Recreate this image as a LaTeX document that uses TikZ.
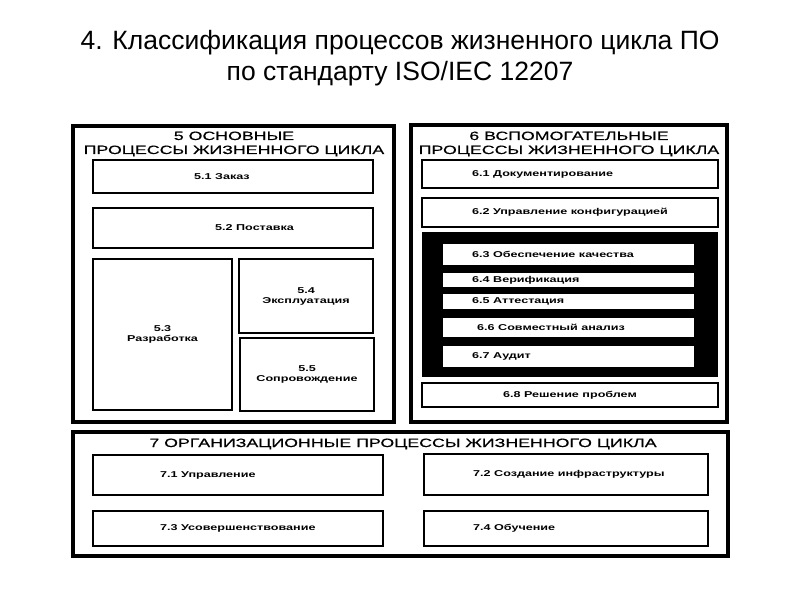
\documentclass[tikz,border=0pt]{standalone}
\usepackage{fontspec}
\setmainfont{Liberation Sans}
\newfontfamily\diagfont[FakeStretch=1.48]{Liberation Sans}
\newfontfamily\headfont[FakeStretch=1.48, FakeBold=0.5]{Liberation Sans}
\usetikzlibrary{positioning}

\begin{document}
\begin{tikzpicture}[
  x=1pt, y=-1pt,
  group/.style={draw, line width=4pt, anchor=north west, inner sep=0pt, outer sep=0pt},
  proc/.style={draw, line width=1.8pt, fill=white, anchor=north west, inner sep=0pt, outer sep=0pt,
    align=center, font=\diagfont\bfseries\fontsize{8.5}{10}\selectfont},
  slot/.style={fill=white, anchor=north west, inner sep=0pt, outer sep=0pt},
  shade/.style={fill=black, anchor=north west, inner sep=0pt, outer sep=0pt},
  grouptitle/.style={align=center, inner sep=0pt, font=\headfont\fontsize{12}{14}\selectfont},
  lbl/.style={inner sep=0pt, font=\diagfont\bfseries\fontsize{8.5}{10}\selectfont}
]
\useasboundingbox (0,0) rectangle (800,600);

% title
\node[align=center, font=\fontsize{26.5}{31}\selectfont] (title) at (400,58)
  {4. Классификация процессов жизненного цикла ПО\\по стандарту ISO/IEC 12207};

% 5 main processes
\node[group, minimum width=321, minimum height=296] (g5) at (73,126) {};
\node[grouptitle] (t5) at (234,144) {5 ОСНОВНЫЕ\\ПРОЦЕССЫ ЖИЗНЕННОГО ЦИКЛА};
\node[proc, minimum width=280, minimum height=33] (p51) at (93,160) {};
\node[proc, minimum width=280, minimum height=40] (p52) at (93,208) {};
\node[lbl, right=101pt of p51.west] {5.1 Заказ};
\node[lbl, right=122pt of p52.west] {5.2 Поставка};
\node[proc, minimum width=139, minimum height=151] (p53) at (93,259) {5.3\\Разработка};
\node[proc, minimum width=134, minimum height=74] (p54) at (239,259) {5.4\\Эксплуатация};
\node[proc, minimum width=134, minimum height=73] (p55) at (240,338) {5.5\\Сопровождение};

% 6 supporting processes
\node[group, minimum width=316, minimum height=297] (g6) at (411,125) {};
\node[grouptitle] (t6) at (569,144) {6 ВСПОМОГАТЕЛЬНЫЕ\\ПРОЦЕССЫ ЖИЗНЕННОГО ЦИКЛА};
\node[proc, minimum width=296, minimum height=28] (p61) at (422,160) {};
\node[lbl, right=50pt of p61.west] {6.1 Документирование};
\node[proc, minimum width=296, minimum height=29] (p62) at (422,198) {6.2 Управление конфигурацией};
\node[shade, minimum width=296, minimum height=145] (sh) at (422,232) {};
\node[slot, minimum width=251, minimum height=21] (p63) at (443,244) {};
\node[slot, minimum width=251, minimum height=14] (p64) at (443,273) {};
\node[slot, minimum width=251, minimum height=15] (p65) at (443,294) {};
\node[slot, minimum width=251, minimum height=19] (p66) at (443,318) {};
\node[slot, minimum width=251, minimum height=21] (p67) at (443,346) {};
\node[lbl, right=29pt of p63.west] {6.3 Обеспечение качества};
\node[lbl, right=29pt of p64.west] {6.4 Верификация};
\node[lbl, right=29pt of p65.west] {6.5 Аттестация};
\node[lbl, right=34pt of p66.west] {6.6 Совместный анализ};
\node[lbl, right=29pt of p67.west] {6.7 Аудит};
\node[proc, minimum width=296, minimum height=24] (p68) at (422,383) {6.8 Решение проблем};

% 7 organizational processes
\node[group, minimum width=655, minimum height=124] (g7) at (73,432) {};
\node[grouptitle] (t7) at (403,444) {7 ОРГАНИЗАЦИОННЫЕ ПРОЦЕССЫ ЖИЗНЕННОГО ЦИКЛА};
\node[proc, minimum width=290, minimum height=40] (p71) at (93,455) {};
\node[proc, minimum width=284, minimum height=41] (p72) at (424,454) {};
\node[proc, minimum width=290, minimum height=35] (p73) at (93,511) {};
\node[proc, minimum width=284, minimum height=35] (p74) at (424,511) {};
\node[lbl, right=67pt of p71.west] {7.1 Управление};
\node[lbl, right=49pt of p72.west] {7.2 Создание инфраструктуры};
\node[lbl, right=67pt of p73.west] {7.3 Усовершенствование};
\node[lbl, right=49pt of p74.west] {7.4 Обучение};
\end{tikzpicture}
\end{document}
